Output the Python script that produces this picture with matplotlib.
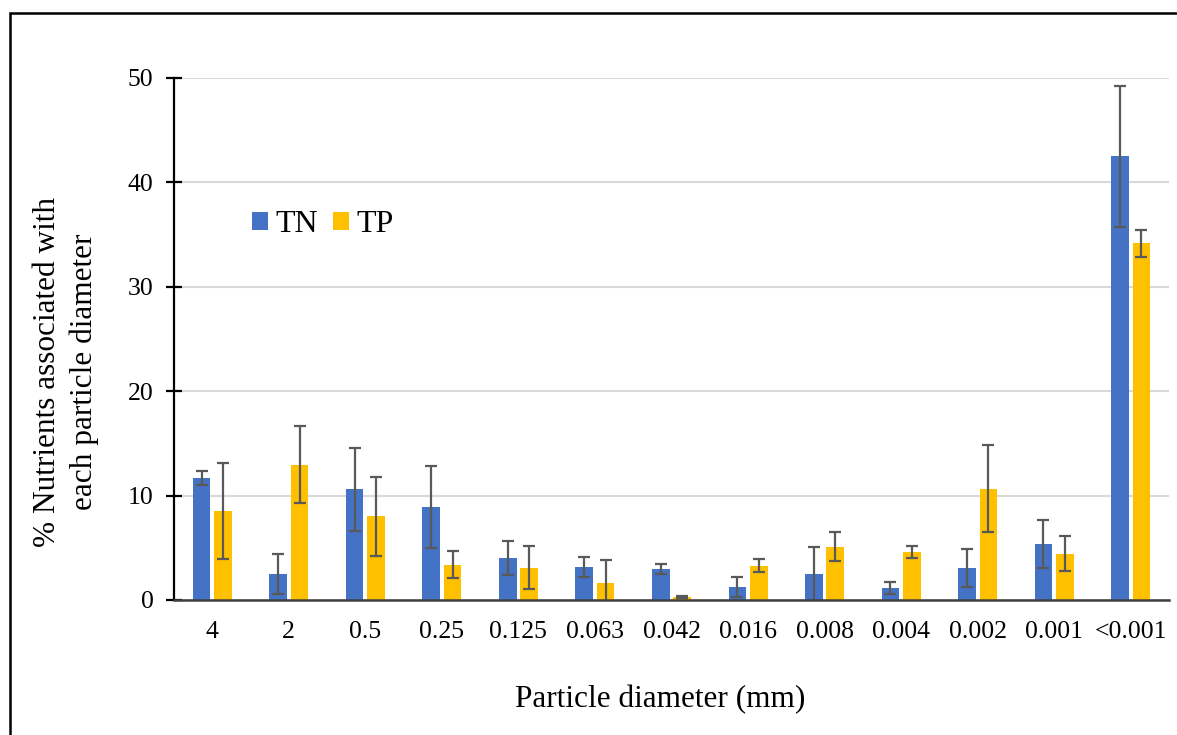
import matplotlib.pyplot as plt
import numpy as np
from matplotlib.patches import Rectangle

plt.rcParams['font.family'] = ['Liberation Serif', 'DejaVu Serif']

# Particle size classes (mm)
sizes = ['4', '2', '0.5', '0.25', '0.125', '0.063', '0.042', '0.016',
         '0.008', '0.004', '0.002', '0.001', '<0.001']

# % of nutrient associated with each class and its error
tn = [11.7, 2.5, 10.6, 8.9, 4.0, 3.2, 2.95, 1.25, 2.5, 1.15, 3.05, 5.35, 42.5]
tn_err = [0.7, 1.9, 4.0, 3.9, 1.65, 0.95, 0.5, 1.0, 2.6, 0.6, 1.8, 2.3, 6.75]
tp = [8.5, 12.95, 8.0, 3.4, 3.1, 1.65, 0.3, 3.3, 5.1, 4.6, 10.65, 4.45, 34.15]
tp_err = [4.6, 3.7, 3.8, 1.3, 2.05, 2.2, 0.12, 0.6, 1.4, 0.6, 4.15, 1.7, 1.25]

fig = plt.figure(figsize=(11.77, 7.35), dpi=100)
ax = fig.add_axes([174 / 1177, 1 - 600 / 735, 995 / 1177, 522 / 735])

x = np.arange(len(sizes))
w = 0.23
off = 0.14
ekw = dict(ecolor='#595959', elinewidth=1.6, capsize=4.5, capthick=1.6)

ax.bar(x - off, tn, w, yerr=tn_err, color='#4472C4', label='TN',
       error_kw=ekw, zorder=2)
ax.bar(x + off, tp, w, yerr=tp_err, color='#FFC000', label='TP',
       error_kw=ekw, zorder=2)

ax.set_xlim(-0.5, len(sizes) - 0.5)
ax.set_ylim(0, 50)
ax.set_yticks([0, 10, 20, 30, 40, 50])
ax.set_xticks(x)
ax.set_xticklabels(sizes)

ax.grid(axis='y', color='#d9d9d9', linewidth=1.5, zorder=0)
ax.set_axisbelow(True)

for s in ['top', 'right']:
    ax.spines[s].set_visible(False)
ax.spines['left'].set_linewidth(1.6)
ax.spines['left'].set_color('black')
ax.spines['bottom'].set_linewidth(1.8)
ax.spines['bottom'].set_color('#404040')

ax.tick_params(axis='y', direction='inout', length=11.5, width=1.6,
               pad=9, labelsize=18.5)
ax.tick_params(axis='x', length=0, pad=15, labelsize=18.5)

fig.text(66 / 1177, 1 - 372 / 735,
         '% Nutrients associated with\neach particle diameter',
         rotation=90, ha='center', va='center', multialignment='center',
         fontsize=22.5, linespacing=1.3)
fig.text(660 / 1177, 1 - 700 / 735, 'Particle diameter (mm)',
         ha='center', va='center', fontsize=22.5)

ax.legend(loc='center left', bbox_to_anchor=(252 / 1177, 1 - 225 / 735),
          bbox_transform=fig.transFigure, ncol=2, frameon=False,
          fontsize=23, handlelength=0.5, handleheight=0.5,
          handletextpad=0.22, columnspacing=0.48, borderpad=0,
          borderaxespad=0)

# outer frame around the chart area
fig.add_artist(Rectangle((10 / 1177, -0.2), 1.2, 1.2 - 13 / 735,
                         transform=fig.transFigure, fill=False,
                         edgecolor='black', linewidth=1.8, clip_on=False))

fig.savefig('out.png', dpi=100)
